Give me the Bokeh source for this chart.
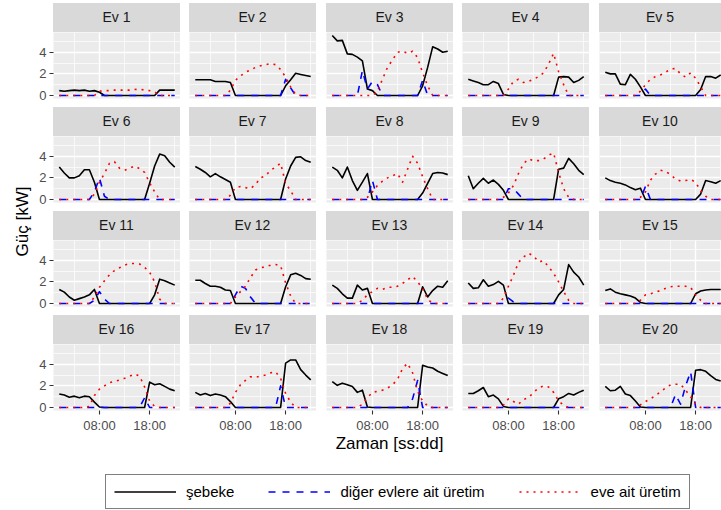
from math import pi
from bokeh.plotting import figure
from bokeh.models import Range1d, FixedTicker, Div, Label, Legend, LegendItem
from bokeh.layouts import column, row
from bokeh.embed import file_html
from bokeh.resources import INLINE

# ---------------- data ----------------
hours = list(range(24))
houses = ["Ev %d" % i for i in range(1, 21)]
series_names = ["şebeke", "diğer evlere ait üretim", "eve ait üretim"]
y_ticks = [0, 2, 4]
y_minor = [1, 3, 5]
x_ticks = [8, 18]
x_minor = [3, 13, 23]
x_tick_labels = {8: "08:00", 18: "18:00"}
x_title = "Zaman [ss:dd]"
y_title = "Güç [kW]"

sebeke = [
    [0.45, 0.4, 0.45, 0.5, 0.45, 0.5, 0.4, 0.45, 0.3, 0, 0, 0, 0, 0, 0, 0, 0, 0, 0, 0, 0.5, 0.5, 0.5, 0.5],
    [1.45, 1.45, 1.45, 1.45, 1.3, 1.3, 1.3, 1.2, 0, 0, 0, 0, 0, 0, 0, 0, 0, 0, 0.9, 1.45, 2.05, 1.95, 1.85, 1.75],
    [5.55, 5.05, 5.1, 3.85, 3.8, 3.55, 3.2, 0.6, 0.45, 0, 0, 0, 0, 0, 0, 0, 0, 0, 0.9, 2.6, 4.5, 4.3, 4.0, 4.1],
    [1.5, 1.35, 1.2, 1.0, 1.0, 1.3, 1.1, 0.1, 0, 0, 0, 0, 0, 0, 0, 0, 0, 0, 1.7, 1.75, 1.7, 1.2, 1.4, 1.75],
    [2.15, 2.0, 2.0, 1.05, 1.0, 1.95, 1.5, 0.8, 0, 0, 0, 0, 0, 0, 0, 0, 0, 0, 0, 0.55, 1.75, 1.75, 1.6, 1.9],
    [3.0, 2.45, 2.0, 2.0, 2.2, 2.75, 2.75, 1.6, 0, 0, 0, 0, 0, 0, 0, 0, 0, 0, 1.5, 3.1, 4.2, 4.05, 3.45, 3.0],
    [3.05, 2.8, 2.5, 2.1, 2.4, 2.1, 1.85, 1.6, 0, 0, 0, 0, 0, 0, 0, 0, 0, 0, 1.9, 3.1, 3.9, 3.95, 3.6, 3.45],
    [3.0, 2.7, 2.0, 3.0, 1.75, 0.85, 1.6, 2.4, 0, 0, 0, 0, 0, 0, 0, 0, 0, 0, 0.6, 1.5, 2.4, 2.5, 2.45, 2.3],
    [2.2, 1.0, 1.5, 1.95, 1.5, 1.8, 1.4, 0.85, 0, 0, 0, 0, 0, 0, 0, 0, 0, 0, 2.8, 2.9, 3.8, 3.3, 2.7, 2.3],
    [2.0, 1.75, 1.6, 1.5, 1.35, 1.1, 0.9, 1.05, 0, 0, 0, 0, 0, 0, 0, 0, 0, 0, 0, 0.5, 1.75, 1.65, 1.5, 1.75],
    [1.3, 1.05, 0.6, 0.3, 0.45, 0.6, 0.8, 1.3, 0, 0, 0, 0, 0, 0, 0, 0, 0, 0, 0, 0.8, 2.25, 2.1, 1.9, 1.7],
    [2.15, 2.15, 1.85, 1.6, 1.6, 1.5, 1.25, 1.2, 0, 0, 0, 0, 0, 0, 0, 0, 0, 0, 1.55, 2.65, 2.8, 2.6, 2.3, 2.25],
    [1.7, 1.4, 0.9, 0.5, 0.5, 1.7, 1.25, 1.4, 0, 0, 0, 0, 0, 0, 0, 0, 0, 0, 1.55, 0.6, 1.2, 1.6, 1.5, 2.1],
    [1.9, 1.4, 1.45, 2.2, 1.6, 1.75, 2.05, 1.7, 0, 0, 0, 0, 0, 0, 0, 0, 0, 0, 0.8, 1.3, 3.6, 2.9, 2.45, 1.7],
    [1.2, 1.35, 1.05, 0.9, 0.8, 0.7, 0.5, 0.1, 0, 0, 0, 0, 0, 0, 0, 0, 0, 0, 0.9, 1.15, 1.25, 1.3, 1.3, 1.3],
    [1.25, 1.15, 0.95, 1.05, 0.9, 1.05, 1.0, 0.5, 0.05, 0, 0, 0, 0, 0, 0, 0, 0, 0, 2.35, 2.1, 2.2, 1.95, 1.7, 1.55],
    [1.4, 1.15, 1.3, 1.1, 1.25, 1.15, 1.0, 0.55, 0, 0, 0, 0, 0, 0, 0, 0, 0, 0, 4.1, 4.4, 4.4, 3.5, 3.0, 2.55],
    [2.4, 2.05, 2.25, 2.1, 1.95, 1.4, 1.6, 0.05, 0, 0, 0, 0, 0, 0, 0, 0, 0, 0, 3.9, 3.75, 3.65, 3.35, 3.15, 2.95],
    [1.3, 1.3, 1.55, 1.85, 1.0, 1.15, 0.8, 0.1, 0, 0, 0, 0, 0, 0, 0, 0, 0, 0, 0.8, 1.0, 1.3, 1.15, 1.4, 1.6],
    [1.95, 1.55, 1.6, 1.95, 1.25, 1.1, 0.6, 0.05, 0, 0, 0, 0, 0, 0, 0, 0, 0, 0, 3.45, 3.5, 3.35, 2.95, 2.6, 2.45],
]

diger = [
    [0, 0, 0, 0, 0, 0, 0, 0, 0, 0, 0, 0, 0, 0, 0, 0, 0, 0, 0, 0, 0, 0, 0, 0],
    [0, 0, 0, 0, 0, 0, 0, 0, 0, 0, 0, 0, 0, 0, 0, 0, 0, 0, 1.5, 0.7, 0, 0, 0, 0],
    [0, 0, 0, 0, 0, 0, 2.3, 0.6, 1.3, 1.0, 0, 0, 0, 0, 0, 0, 0, 0, 1.4, 0, 0, 0, 0, 0],
    [0, 0, 0, 0, 0, 0, 0, 0, 0, 0, 0, 0, 0, 0, 0, 0, 0, 0, 0, 0, 0, 0, 0, 0],
    [0, 0, 0, 0, 0, 0, 0, 0, 0.6, 0, 0, 0, 0, 0, 0, 0, 0, 0, 0, 0, 0, 0, 0, 0],
    [0, 0, 0, 0, 0, 0, 0, 0.7, 2.0, 0.3, 0, 0, 0, 0, 0, 0, 0, 0, 0, 0, 0, 0, 0, 0],
    [0, 0, 0, 0, 0, 0, 0, 0, 0, 0, 0, 0, 0, 0, 0, 0, 0, 0, 0, 0, 0, 0, 0, 0],
    [0, 0, 0, 0, 0, 0, 0, 0, 1.75, 0, 0, 0, 0, 0, 0, 0, 0, 0, 0, 0, 0, 0, 0, 0],
    [0, 0, 0, 0, 0, 0, 0, 0, 1.0, 1.0, 0.5, 0, 0, 0, 0, 0, 0, 0, 0, 0, 0, 0, 0, 0],
    [0, 0, 0, 0, 0, 0, 0, 0, 1.2, 0, 0, 0, 0, 0, 0, 0, 0, 0, 0, 0, 0, 0, 0, 0],
    [0, 0, 0, 0, 0, 0, 0, 0.3, 1.1, 0.4, 0, 0, 0, 0, 0, 0, 0, 0, 0, 0, 0, 0, 0, 0],
    [0, 0, 0, 0, 0, 0, 0, 0, 0.8, 1.6, 1.4, 0.6, 0, 0, 0, 0, 0, 0, 0, 0, 0, 0, 0, 0],
    [0, 0, 0, 0, 0, 0, 0, 0, 0, 0, 0, 0, 0, 0, 0, 0, 0, 0, 0, 0, 0, 0, 0, 0],
    [0, 0, 0, 0, 0, 0, 0, 0, 0.5, 0.15, 0, 0, 0, 0, 0, 0, 0, 0, 0, 0, 0, 0, 0, 0],
    [0, 0, 0, 0, 0, 0, 0, 0, 0, 0, 0, 0, 0, 0, 0, 0, 0, 0, 0, 0, 0, 0, 0, 0],
    [0, 0, 0, 0, 0, 0, 0, 0, 0, 0, 0, 0, 0, 0, 0, 0, 0, 0.9, 0, 0, 0, 0, 0, 0],
    [0, 0, 0, 0, 0, 0, 0, 0, 0, 0, 0, 0, 0, 0, 0, 0, 0, 2.0, 0, 0, 0, 0, 0, 0],
    [0, 0, 0, 0, 0, 0, 0, 0, 0, 0, 0, 0, 0, 0, 0, 0, 0.8, 2.5, 0, 0, 0, 0, 0, 0],
    [0, 0, 0, 0, 0, 0, 0, 0, 0, 0, 0, 0, 0, 0, 0, 0, 0, 0, 0, 0, 0, 0, 0, 0],
    [0, 0, 0, 0, 0, 0, 0, 0, 0, 0, 0, 0, 0, 0, 1.2, 0.3, 2.0, 3.3, 0, 0, 0, 0, 0, 0],
]

eve = [
    [0, 0, 0, 0, 0, 0, 0, 0, 0.4, 0.45, 0.45, 0.5, 0.5, 0.5, 0.5, 0.55, 0.6, 0.5, 0.45, 0.35, 0, 0, 0, 0],
    [0, 0, 0, 0, 0, 0, 0, 0.5, 1.4, 1.8, 2.15, 2.35, 2.6, 2.75, 2.85, 2.95, 2.85, 2.4, 1.7, 0.8, 0.1, 0, 0, 0],
    [0, 0, 0, 0, 0, 0, 0, 0, 0, 0.4, 1.5, 2.6, 3.3, 4.0, 4.1, 3.9, 4.1, 3.5, 2.1, 0.9, 0, 0, 0, 0],
    [0, 0, 0, 0, 0, 0, 0, 0, 0.6, 1.3, 1.5, 1.2, 1.3, 1.5, 1.75, 2.1, 2.9, 3.9, 2.2, 1.0, 0, 0, 0, 0],
    [0, 0, 0, 0, 0, 0, 0, 0.4, 1.0, 1.5, 1.75, 1.9, 2.15, 2.45, 2.5, 2.0, 1.7, 2.1, 1.6, 0.8, 0, 0, 0, 0],
    [0, 0, 0, 0, 0, 0, 0, 0.5, 1.6, 2.4, 3.35, 3.5, 2.9, 2.7, 2.9, 3.1, 2.85, 2.5, 1.55, 0.7, 0, 0, 0, 0],
    [0, 0, 0, 0, 0, 0, 0, 0.4, 1.1, 1.2, 1.1, 1.0, 1.4, 2.0, 2.2, 2.7, 3.0, 3.35, 1.5, 0.8, 0, 0, 0, 0],
    [0, 0, 0, 0, 0, 0, 0, 0.2, 0.7, 1.3, 1.7, 2.0, 2.2, 2.4, 1.6, 2.8, 4.0, 3.35, 2.1, 1.0, 0, 0, 0, 0],
    [0, 0, 0, 0, 0, 0, 0, 0.2, 0.6, 1.3, 2.4, 3.3, 3.75, 3.6, 3.6, 3.75, 4.1, 4.3, 2.5, 1.0, 0.2, 0, 0, 0],
    [0, 0, 0, 0, 0, 0, 0, 0.2, 0.7, 1.8, 2.35, 2.7, 2.6, 2.3, 1.9, 1.7, 1.75, 1.85, 1.6, 0.8, 0.3, 0, 0, 0],
    [0, 0, 0, 0, 0, 0, 0, 0.6, 1.5, 2.1, 2.65, 3.05, 3.3, 3.55, 3.7, 3.7, 3.65, 3.35, 2.9, 2.0, 0.4, 0, 0, 0],
    [0, 0, 0, 0, 0, 0, 0, 0, 0.6, 1.1, 1.6, 2.4, 3.1, 3.3, 3.4, 3.55, 3.6, 3.5, 1.9, 0.7, 0, 0, 0, 0],
    [0, 0, 0, 0, 0, 0, 0.3, 0.8, 1.1, 1.4, 1.3, 1.5, 1.5, 1.6, 1.85, 2.2, 2.5, 2.0, 1.4, 0.4, 0, 0, 0, 0],
    [0, 0, 0, 0, 0, 0, 0, 0.5, 1.6, 2.6, 3.8, 4.3, 4.65, 4.4, 3.85, 3.95, 3.4, 2.8, 2.0, 1.1, 0.3, 0, 0, 0],
    [0, 0, 0, 0, 0, 0, 0, 0.3, 0.8, 0.9, 1.05, 1.2, 1.4, 1.55, 1.6, 1.6, 1.6, 1.5, 0.8, 0.3, 0, 0, 0, 0],
    [0, 0, 0, 0, 0, 0, 0.1, 1.1, 1.7, 2.0, 2.3, 2.4, 2.55, 2.7, 2.9, 3.1, 2.9, 1.9, 0.6, 0.1, 0, 0, 0, 0],
    [0, 0, 0, 0, 0, 0, 0, 0.4, 1.4, 2.1, 2.5, 2.85, 2.8, 2.9, 3.0, 3.2, 3.3, 2.7, 1.3, 0.5, 0, 0, 0, 0],
    [0, 0, 0, 0, 0, 0, 0.3, 0.9, 1.4, 1.5, 1.6, 1.8, 2.1, 2.6, 3.6, 4.1, 3.2, 1.5, 0.6, 0.15, 0, 0, 0, 0],
    [0, 0, 0, 0, 0, 0, 0, 0.2, 0.8, 0.55, 0.3, 0.75, 0.9, 1.4, 1.8, 2.0, 1.9, 1.4, 0.6, 0.2, 0, 0, 0, 0],
    [0, 0, 0, 0, 0, 0, 0, 0.25, 0.55, 0.8, 1.1, 1.45, 1.8, 2.1, 2.15, 2.15, 1.6, 1.0, 0.3, 0, 0, 0, 0, 0],
]

for s in (sebeke, diger, eve):
    for arr in s:
        assert len(arr) == len(hours)

# ---------------- style ----------------
FONT = "Liberation Sans"
PANEL_BG = "#EBEBEB"
STRIP_BG = "#D9D9D9"
COLORS = ["black", "blue", "red"]
DASHES = ["solid", "7 7", "2 5"]

# ggplot-like 5% expansion derived from data
x_min, x_max = min(hours), max(hours)
x_pad = 0.05 * (x_max - x_min)
x_lo = x_min - x_pad
x_span = (x_max - x_min) + 2 * x_pad
y_max = max(max(max(a) for a in s) for s in (sebeke, diger, eve))
y_lo, y_hi = -0.05 * y_max, 1.05 * y_max

FW = 127
FH = 66
STRIP_H = 29
YT_W = 34
left_border = [53 - YT_W, 9, 10, 9, 10]
frame_w = [127, 127, 127, 127, 122]
BOTTOM_AXIS = 22


def make_panel(i):
    r, c = divmod(i, 5)
    fw = frame_w[c]
    x_hi = x_lo + fw * x_span / FW
    p = figure(title=None, frame_width=fw, frame_height=FH,
               x_range=Range1d(x_lo, x_hi), y_range=Range1d(y_lo, y_hi),
               x_axis_location="below" if r == 3 else None,
               y_axis_location="left" if c == 0 else None,
               output_backend="svg", toolbar_location=None,
               min_border_left=left_border[c], min_border_right=0,
               min_border_top=0, min_border_bottom=(9 if r < 3 else BOTTOM_AXIS),
               background_fill_color=PANEL_BG, border_fill_color="white",
               outline_line_color=None)
    for g in p.xgrid:
        g.ticker = FixedTicker(ticks=x_ticks, minor_ticks=x_minor)
    for g in p.ygrid:
        g.ticker = FixedTicker(ticks=y_ticks, minor_ticks=y_minor)
    for g in list(p.xgrid) + list(p.ygrid):
        g.grid_line_color = "white"
        g.grid_line_width = 1.4
        g.minor_grid_line_color = "white"
        g.minor_grid_line_width = 0.7
    for ax in p.xaxis:
        ax.ticker = FixedTicker(ticks=x_ticks)
        ax.major_label_overrides = x_tick_labels
    for ax in p.yaxis:
        ax.ticker = FixedTicker(ticks=y_ticks)
    for ax in list(p.xaxis) + list(p.yaxis):
        ax.axis_line_color = None
        ax.major_tick_line_color = "#333333"
        ax.major_tick_line_width = 1.1
        ax.major_tick_out = 4
        ax.major_tick_in = 0
        ax.minor_tick_out = 0
        ax.minor_tick_in = 0
        ax.major_label_text_font = FONT
        ax.major_label_text_font_size = "13px"
        ax.major_label_text_color = "#4D4D4D"
        ax.major_label_standoff = 3
    for series, col, dash in zip((sebeke, diger, eve), COLORS, DASHES):
        p.line(hours, series[i], line_color=col, line_width=1.6,
               line_dash=dash, line_join="round")
    strip = Div(text=houses[i], width=fw, height=STRIP_H,
                margin=(3 if r == 0 else 0, 0, 0, left_border[c]),
                styles={"background-color": STRIP_BG, "color": "#1A1A1A",
                        "font-family": FONT, "font-size": "14px",
                        "text-align": "center", "line-height": "%dpx" % STRIP_H})
    return column(strip, p, spacing=0)


rows = []
for r in range(4):
    rows.append(row([make_panel(r * 5 + c) for c in range(5)], spacing=0))
grid_block = column(rows, spacing=0)

TOP_H = 3 + 3 * (STRIP_H + FH + 9) + STRIP_H + FH + BOTTOM_AXIS

# y title
yt = figure(width=YT_W, height=TOP_H, x_range=Range1d(0, YT_W), y_range=Range1d(0, TOP_H),
            x_axis_location=None, y_axis_location=None, toolbar_location=None,
            output_backend="svg", min_border=0, outline_line_color=None, title=None)
yt.grid.visible = False
yt.add_layout(Label(x=22, y=TOP_H - 221, text=y_title, angle=pi / 2,
                    text_align="center", text_baseline="middle",
                    text_font=FONT, text_font_size="17px", text_color="black"))

# x title
XT_H = 28
xt = figure(width=721, height=XT_H, x_range=Range1d(0, 721), y_range=Range1d(0, XT_H),
            x_axis_location=None, y_axis_location=None, toolbar_location=None,
            output_backend="svg", min_border=0, outline_line_color=None, title=None)
xt.grid.visible = False
xt.add_layout(Label(x=389, y=XT_H - 8, text=x_title,
                    text_align="center", text_baseline="middle",
                    text_font=FONT, text_font_size="17px", text_color="black"))

# legend (sample lines drawn off-screen so only the legend keys show)
LG_H = 510 - TOP_H - XT_H
lg = figure(width=721, height=LG_H, x_range=Range1d(100, 101), y_range=Range1d(100, 101),
            x_axis_location=None, y_axis_location=None, toolbar_location=None,
            output_backend="svg", min_border=0, outline_line_color=None, title=None)
lg.grid.visible = False
items = []
for name, series, col, dash in zip(series_names, (sebeke, diger, eve), COLORS, DASHES):
    rr = lg.line(hours, series[0], line_color=col, line_width=1.6, line_dash=dash)
    items.append(LegendItem(label=name, renderers=[rr]))
legend = Legend(items=items, orientation="horizontal", location=(105, 4),
                glyph_width=62, glyph_height=17, label_standoff=10, spacing=34,
                padding=8, margin=0, border_line_color="black", border_line_width=1,
                background_fill_color="white", background_fill_alpha=1,
                label_text_font=FONT, label_text_font_size="15px",
                label_text_color="black", label_height=17)
lg.add_layout(legend, "center")

layout = column(row(yt, grid_block, spacing=0), xt, lg, spacing=0)

open("out.html", "w").write(file_html(layout, INLINE))
